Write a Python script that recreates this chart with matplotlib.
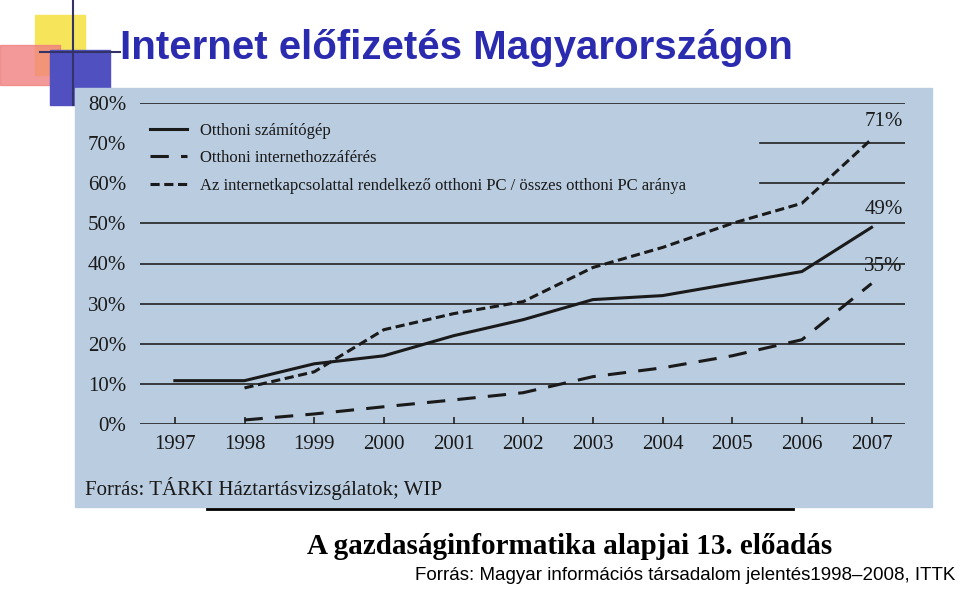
import matplotlib
matplotlib.use('Agg')
import matplotlib.pyplot as plt
from matplotlib.patches import Rectangle
from matplotlib.lines import Line2D

# adatok
evek = [1997, 1998, 1999, 2000, 2001, 2002, 2003, 2004, 2005, 2006, 2007]
szamitogep = [10.8, 10.8, 15, 17, 22, 26, 31, 32, 35, 38, 49]
evek_net = evek[1:]
internet = [1, 2.5, 4.3, 6, 7.8, 11.8, 14, 17, 21, 35]
pc_arany = [9, 13, 23.5, 27.5, 30.5, 39, 44, 50, 55, 71]
ytick = [0, 10, 20, 30, 40, 50, 60, 70, 80]

W, H = 960, 589
fig = plt.figure(figsize=(9.6, 5.89), dpi=100)
fig.patch.set_facecolor('white')

def fx(x): return x / W
def fy(y): return 1 - y / H

# dísz a bal felső sarokban
fig.patches.append(Rectangle((fx(35), fy(75)), fx(50), 60 / H, transform=fig.transFigure, color='#f6e45a', zorder=0))
fig.patches.append(Rectangle((fx(0), fy(85)), fx(60), 40 / H, transform=fig.transFigure, color='#f08080', alpha=0.8, zorder=0))
fig.patches.append(Rectangle((fx(50), fy(105)), fx(60), 55 / H, transform=fig.transFigure, color='#5050c0', zorder=0))
fig.lines.append(Line2D([fx(73), fx(73)], [fy(0), fy(105)], transform=fig.transFigure, color='#333366', lw=1.5))
fig.lines.append(Line2D([fx(40), fx(120)], [fy(52), fy(52)], transform=fig.transFigure, color='#333366', lw=1.5))

# a diagram háttere
fig.patches.append(Rectangle((fx(75), fy(507)), fx(857), 419 / H, transform=fig.transFigure, color='#b9cce0', zorder=0.5))

fig.text(fx(120), fy(48), 'Internet előfizetés Magyarországon', fontsize=29, fontweight='bold',
         color='#2b2bb0', family='Liberation Sans', va='center')

ax = fig.add_axes([fx(140), fy(424), fx(765), 321 / H])
ax.set_zorder(3)
ax.set_facecolor('none')
ax.set_xlim(1996.5, 2007.48)
ax.set_ylim(0, 80)
for v in ytick:
    if v in (60, 70):
        ax.plot([2005.4, 2007.48], [v, v], color='#222222', lw=1.2)
    else:
        ax.axhline(v, color='#222222', lw=1.2)
for s in ax.spines.values():
    s.set_visible(False)

ax.plot(evek, szamitogep, color='#1a1a1a', lw=2.2, label='Otthoni számítógép')
ax.plot(evek_net, internet, color='#1a1a1a', lw=2.2, dashes=(6, 4), label='Otthoni internethozzáférés')
ax.plot(evek_net, pc_arany, color='#1a1a1a', lw=2.2, dashes=(3, 1.5),
        label='Az internetkapcsolattal rendelkező otthoni PC / összes otthoni PC aránya')
leg = ax.legend(loc='upper left', frameon=False, prop={'family': 'Liberation Serif', 'size': 12},
                handlelength=2.2, labelspacing=0.7, borderaxespad=0.2, bbox_to_anchor=(0, 0.97))
for t in leg.get_texts():
    t.set_color('#1a1a1a')

for v, s in [(71, '71%'), (49, '49%'), (35, '35%')]:
    ax.text(2007.45, v + 2, s, ha='right', va='bottom', fontsize=15, family='Liberation Serif', color='#1a1a1a')

ax.set_xticks(evek)
ax.set_xticklabels([str(e) for e in evek], fontsize=15, family='Liberation Serif', color='#1a1a1a')
ax.set_yticks(ytick)
ax.set_yticklabels([f'{v}%' for v in ytick], fontsize=15, family='Liberation Serif', color='#1a1a1a')
ax.tick_params(axis='y', length=0, pad=10)
ax.tick_params(axis='x', length=5, width=1.2, pad=8, direction='in', color='#222222')

fig.text(fx(85), fy(488), 'Forrás: TÁRKI Háztartásvizsgálatok; WIP', fontsize=15, family='Liberation Serif',
         color='#1a1a1a', va='center')

fig.lines.append(Line2D([fx(207), fx(793)], [fy(509), fy(509)], transform=fig.transFigure, color='black', lw=2))
fig.text(fx(570), fy(546), 'A gazdaságinformatika alapjai 13. előadás', fontsize=21, fontweight='bold',
         family='Liberation Serif', ha='center', va='center')
fig.text(fx(955), fy(576), 'Forrás: Magyar információs társadalom jelentés1998–2008, ITTK', fontsize=13.5,
         family='Liberation Sans', ha='right', va='center')

fig.savefig('out.png', dpi=100)
